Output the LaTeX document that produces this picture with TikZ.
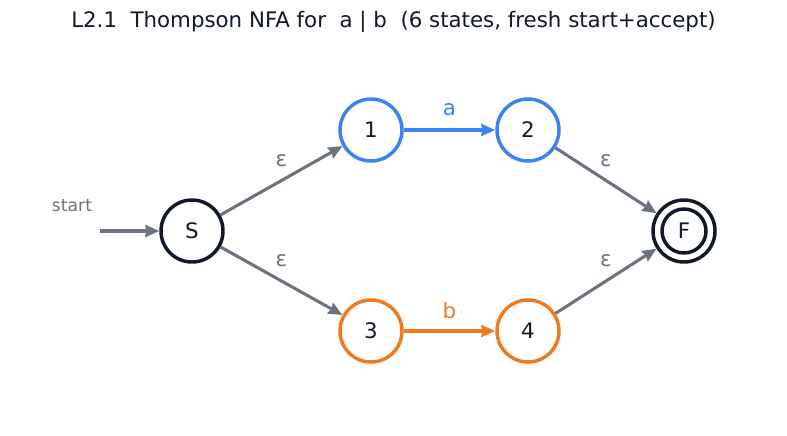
\documentclass[tikz,border=0pt]{standalone}
\usepackage{fontspec}
\setmainfont{DejaVu Sans}
\usetikzlibrary{arrows.meta}
\definecolor{cblue}{HTML}{3B82F6}
\definecolor{corange}{HTML}{F07A1F}
\definecolor{cdark}{HTML}{111827}
\definecolor{cgray}{HTML}{6B7280}
\begin{document}
\begin{tikzpicture}[x=0.75pt,y=-0.75pt,
  state/.style={circle, draw=cdark, line width=2.6pt, minimum size=46.5pt, inner sep=0pt, font=\fontsize{16}{18}\selectfont, text=cdark},
  bluestate/.style={state, draw=cblue},
  orstate/.style={state, draw=corange},
  edge/.style={line width=2.3pt, draw=cgray, -{Stealth[length=10.5pt,width=9pt,inset=1pt]}},
  lab/.style={font=\fontsize{16}{18}\selectfont, text=cgray},
]
\useasboundingbox (0,0) rectangle (787,435);
\node[font=\fontsize{16}{19}\selectfont, text=cdark] (title) at (393.5,22) {L2.1\ \ Thompson NFA for\ \ a | b\ \ (6 states, fresh start+accept)};
\node[state] (S) at (192,231) {S};
\node[bluestate] (n1) at (371,130) {1};
\node[bluestate] (n2) at (528,130) {2};
\node[orstate] (n3) at (371,331) {3};
\node[orstate] (n4) at (528,331) {4};
\node[state] (F) at (684,231) {F};
\node[circle, draw=cdark, line width=2.6pt, minimum size=33pt, inner sep=0pt] (Fin) at (684,231) {};
\coordinate (st) at (100,231);
\node[font=\fontsize{12.9}{15}\selectfont, text=cgray] (stlab) at (72,206) {start};
\draw[edge] (st) -- (S);
\draw[edge] (S) -- (n1) node[lab, midway, yshift=15pt] {ε};
\draw[edge] (S) -- (n3) node[lab, midway, yshift=15pt] {ε};
\draw[edge] (n2) -- (F) node[lab, midway, yshift=15pt] {ε};
\draw[edge] (n4) -- (F) node[lab, midway, yshift=15pt] {ε};
\draw[edge, draw=cblue] (n1) -- (n2) node[lab, text=cblue, midway, yshift=15pt] {a};
\draw[edge, draw=corange] (n3) -- (n4) node[lab, text=corange, midway, yshift=15pt] {b};
\end{tikzpicture}
\end{document}
